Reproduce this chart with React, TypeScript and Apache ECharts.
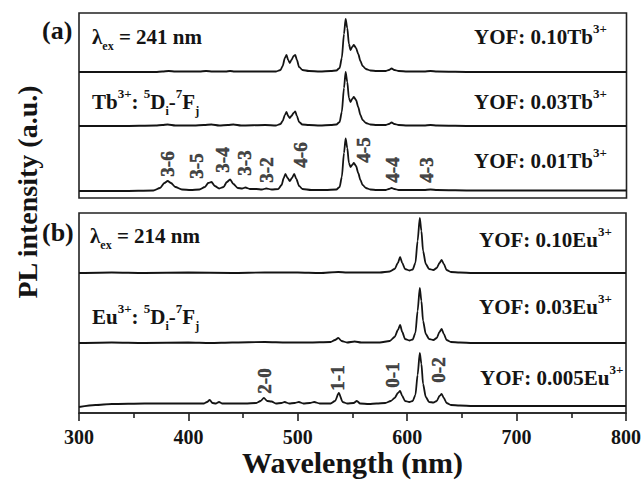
import React, { useEffect, useRef } from "react";
import * as echarts from "echarts";

// Emission spectra, [wavelength (nm), relative intensity]
const tb010: number[][] = [
  [300, 0], [340, 0], [370, 0], [376, 0.5], [382, 1], [388, 0.5], [410, 0.5], [416, 1], [422, 0.5],
  [434, 0.5], [438, 1], [442, 0.5], [480, 0.5], [484, 2], [486, 6], [488, 14], [489.5, 17], [491, 12],
  [492.5, 9], [494, 12], [496, 16], [497.5, 17], [499, 12], [501, 5], [504, 2], [510, 1], [520, 0.5],
  [530, 1], [535, 1.5], [538, 4], [540, 14], [542, 38], [543.5, 53], [545, 44], [546.5, 28], [548, 22],
  [549.5, 25], [551, 27], [553, 24], [555, 18], [557, 11], [559, 6], [562, 3], [566, 1.5], [572, 1],
  [580, 1], [583, 2], [585.5, 3.5], [588, 2], [592, 1], [600, 0.5], [615, 0.5], [621, 1], [627, 0.5],
  [660, 0], [700, 0], [800, 0],
];
const tb003: number[][] = [
  [300, 0], [340, 0], [370, 0.5], [376, 1], [381, 1.5], [388, 0.5], [405, 0.5], [414, 1], [421, 1.5],
  [428, 0.5], [436, 1], [441, 1.5], [448, 0.5], [470, 1], [480, 0.5], [484, 2], [486, 5], [488, 11],
  [489.5, 14], [491, 10], [492.5, 8], [494, 10], [496, 13], [497.5, 14.5], [499, 10], [501, 4], [504, 1.5],
  [510, 1], [520, 0.5], [530, 1], [535, 1.5], [538, 4], [540, 14], [542, 38], [543.5, 54], [545, 44],
  [546.5, 28], [548, 24], [549.5, 27], [551, 29], [553, 26], [555, 19], [557, 11], [559, 6], [562, 3],
  [566, 1.5], [572, 1], [580, 1], [583, 2], [585.5, 3.5], [588, 2], [592, 1], [600, 0.5], [615, 0.5],
  [621, 1], [627, 0.5], [660, 0], [700, 0], [800, 0],
];
const tb001: number[][] = [
  [300, 0], [340, 0], [368, 0.5], [374, 3], [378, 8], [381, 10], [384, 8], [388, 4], [394, 1.5],
  [402, 1], [410, 1.5], [415, 4], [418, 8], [421, 9], [424, 5], [428, 2.5], [432, 4], [435, 9],
  [438, 11.5], [441, 7], [445, 3], [449, 2.5], [452, 3.5], [456, 2], [462, 2], [467, 1.5], [471, 2.5],
  [476, 1.5], [482, 2], [485, 6], [487, 13], [488.5, 17], [490.5, 13], [492.5, 10], [494.5, 13],
  [496.5, 17], [498.5, 12], [501, 5], [504, 2], [512, 1], [525, 1], [535, 1.5], [538, 4], [540, 14],
  [542, 38], [543.5, 52.5], [545, 43], [546.5, 28], [548, 24], [549.5, 26], [551, 28], [553, 25],
  [555, 18], [557, 11], [559, 6], [562, 3], [566, 1.5], [572, 1], [580, 1], [583, 2], [585.5, 3],
  [588, 2], [592, 1], [600, 1], [615, 1], [621, 1.5], [627, 1], [660, 0.5], [700, 0.5], [800, 0.5],
];
const eu010: number[][] = [
  [300, 0], [330, 0.5], [360, 0], [400, 0.5], [440, 0], [470, 0.5], [500, 0.5], [520, 0], [537, 1],
  [545, 0.5], [560, 0.5], [575, 0.5], [584, 1.5], [588.5, 4], [591.5, 10], [593.5, 16], [595.5, 10],
  [598, 4], [602, 2.5], [605, 3.5], [607.5, 10], [609.5, 32], [611.5, 55], [613, 42], [614.5, 22],
  [617, 9], [620, 4], [624, 3], [627, 5], [629.5, 10], [631.5, 13], [633.5, 9], [636, 3], [640, 1],
  [648, 0.5], [660, 0], [800, 0],
];
const eu003: number[][] = [
  [300, 0], [330, 0.5], [360, 0], [400, 0.5], [420, 0], [440, 0.5], [470, 1], [490, 0.5], [510, 0.5],
  [530, 1], [534, 3], [537, 5], [540, 2], [545, 0.5], [552, 1.5], [558, 0.5], [575, 0.5], [584, 2],
  [588.5, 6], [591.5, 13], [593.5, 18], [595.5, 11], [598, 4], [602, 2.5], [605, 3.5], [607.5, 10],
  [609.5, 32], [611.5, 55], [613, 42], [614.5, 22], [617, 9], [620, 4], [624, 3], [627, 5], [629.5, 11],
  [631.5, 14], [633.5, 9], [636, 3], [640, 1], [648, 0.5], [660, 0], [800, 0],
];
const eu0005: number[][] = [
  [300, -1], [315, 1], [330, 2], [360, 2.5], [400, 2.5], [414, 2.5], [417, 4], [419.5, 6], [422, 3],
  [425, 2.5], [428, 4], [431, 2.5], [440, 2.5], [452, 2.5], [462, 3], [466, 5], [469, 8], [472, 5],
  [476, 4.5], [480, 2.5], [485, 3], [488, 4], [492, 2.5], [497, 3], [501, 4], [505, 2.5], [511, 3],
  [515, 4], [520, 2.5], [530, 2.5], [534, 5], [537.5, 13], [541, 4], [545, 2.5], [551, 3], [554, 5],
  [557, 2.5], [565, 2], [572, 2.5], [580, 3], [585, 5], [588.5, 8], [591.5, 13], [593.5, 15], [595.5, 10],
  [598, 5], [602, 4], [605, 5], [607.5, 11], [609.5, 31], [611.5, 53], [613, 42], [614.5, 22], [617, 9],
  [620, 4], [624, 3.5], [627, 5], [629.5, 10], [631.5, 12], [633.5, 8], [636, 3], [640, 1], [648, 0.5],
  [660, 0], [700, 0], [800, 0],
];

// Vertical offsets of the stacked traces (top to bottom) inside each frame
const tbOffsets = [126, 72, 7];
const euOffsets = [140, 70, 7];

const tbSamples = ["0.10", "0.03", "0.01"];
const euSamples = ["0.10", "0.03", "0.005"];

// Transition labels, 5D3/5D4 -> 7FJ for Tb3+, 5D0/5D1 -> 7FJ for Eu3+
const tbPeakNames = ["3-6", "3-5", "3-4", "3-3", "3-2", "4-6", "4-5", "4-4", "4-3"];
const tbPeakNm = [381, 407, 431, 451, 471, 502, 560, 586, 617];
const tbPeakLabelY = [34, 32, 38, 35, 28, 43, 48, 28, 28];
const euPeakNames = ["2-0", "1-1", "0-1", "0-2"];
const euPeakNm = [470, 536, 587, 629];
const euPeakLabelY = [32, 35, 38, 43];

const xMin = 300;
const xMax = 800;
const xStep = 100;

const FONT = "'Times New Roman', 'Liberation Serif', serif";
const INK = "#141414";

const rich = {
  sup: { fontSize: 13, fontWeight: "bold", fontFamily: FONT, fill: INK, lineHeight: 16, verticalAlign: "top" },
  sub: { fontSize: 12, fontWeight: "bold", fontFamily: FONT, fill: INK, lineHeight: 6, verticalAlign: "bottom" },
};

function label(text: string, x: number, y: number, size = 21) {
  return {
    type: "text",
    x,
    y,
    silent: true,
    style: {
      text,
      rich,
      fill: INK,
      fontSize: size,
      fontWeight: "bold",
      fontFamily: FONT,
      lineHeight: 30,
      align: "left",
      verticalAlign: "middle",
    },
  };
}

function traces(data: number[][][], offsets: number[], axis: number) {
  return data.map((d, i) => ({
    type: "line",
    xAxisIndex: axis,
    yAxisIndex: axis,
    data: d.map((p) => [p[0], p[1] + offsets[i]]),
    showSymbol: false,
    smooth: 0.25,
    smoothMonotone: "x",
    lineStyle: { color: INK, width: 1.8 },
    silent: true,
  }));
}

function peakLabels(names: string[], nm: number[], ys: number[], axis: number) {
  return {
    type: "scatter",
    xAxisIndex: axis,
    yAxisIndex: axis,
    symbolSize: 1,
    itemStyle: { color: "rgba(0,0,0,0)" },
    silent: true,
    data: names.map((n, i) => ({ name: n, value: [nm[i], ys[i]] })),
    label: {
      show: true,
      position: "inside",
      rotate: 90,
      formatter: "{b}",
      fontSize: 19,
      fontWeight: "bold",
      fontFamily: FONT,
      color: INK,
      textBorderColor: INK,
      textBorderWidth: 0.5,
    },
  };
}

export default function App() {
  const ref = useRef<HTMLDivElement>(null);

  useEffect(() => {
    if (!ref.current) return;
    const chart = echarts.init(ref.current, undefined, { renderer: "svg" });
    const frame = { show: true, borderColor: "#222222", borderWidth: 1.6, backgroundColor: "transparent" };
    const option = {
      animation: false,
      backgroundColor: "#ffffff",
      grid: [
        { ...frame, left: 79, right: 17.5, top: 13, height: 185 },
        { ...frame, left: 79, right: 17.5, top: 213, height: 200 },
      ],
      xAxis: [
        { gridIndex: 0, type: "value", min: xMin, max: xMax, interval: xStep, show: false },
        {
          gridIndex: 1,
          type: "value",
          min: xMin,
          max: xMax,
          interval: xStep,
          axisLine: { show: true, lineStyle: { color: "#222222", width: 1.6 } },
          axisTick: { show: true, length: 8, lineStyle: { color: "#222222", width: 1.6 } },
          minorTick: { show: true, splitNumber: 2, length: 5, lineStyle: { color: "#222222", width: 1.6 } },
          splitLine: { show: false },
          axisLabel: { fontSize: 20, fontWeight: "bold", fontFamily: FONT, color: INK, margin: 14 },
          name: "Wavelength (nm)",
          nameLocation: "middle",
          nameGap: 31,
          nameTextStyle: { fontSize: 30, fontWeight: "bold", fontFamily: FONT, color: INK },
        },
      ],
      yAxis: [
        { gridIndex: 0, type: "value", min: 0, max: 185, show: false },
        { gridIndex: 1, type: "value", min: 0, max: 200, show: false },
      ],
      series: [
        ...traces([tb010, tb003, tb001], tbOffsets, 0),
        ...traces([eu010, eu003, eu0005], euOffsets, 1),
        peakLabels(tbPeakNames, tbPeakNm, tbPeakLabelY, 0),
        peakLabels(euPeakNames, euPeakNm, euPeakLabelY, 1),
      ],
      graphic: [
        {
          type: "text",
          x: 27,
          y: 192,
          rotation: Math.PI / 2,
          silent: true,
          style: {
            text: "PL intensity (a.u.)",
            fill: INK,
            fontSize: 28,
            fontWeight: "bold",
            fontFamily: FONT,
            align: "center",
            verticalAlign: "middle",
          },
        },
        label("(a)", 42, 30, 26),
        label("(b)", 42, 232, 26),
        label("λ{sub|ex} = 241 nm", 92, 37),
        label("Tb{sup|3+}: {sup|5}D{sub|i}-{sup|7}F{sub|j}", 92, 102),
        label("λ{sub|ex} = 214 nm", 90, 236),
        label("Eu{sup|3+}: {sup|5}D{sub|i}-{sup|7}F{sub|j}", 92, 317),
        label(`YOF: ${tbSamples[0]}Tb{sup|3+}`, 474, 37),
        label(`YOF: ${tbSamples[1]}Tb{sup|3+}`, 474, 102),
        label(`YOF: ${tbSamples[2]}Tb{sup|3+}`, 474, 161),
        label(`YOF: ${euSamples[0]}Eu{sup|3+}`, 479, 240),
        label(`YOF: ${euSamples[1]}Eu{sup|3+}`, 479, 307),
        label(`YOF: ${euSamples[2]}Eu{sup|3+}`, 480, 378),
      ],
    };
    chart.setOption(option as any);
    return () => chart.dispose();
  }, []);

  return (
    <div
      ref={ref}
      style={{ position: "fixed", left: 0, top: 0, width: 644, height: 484, background: "#fff" }}
    />
  );
}
